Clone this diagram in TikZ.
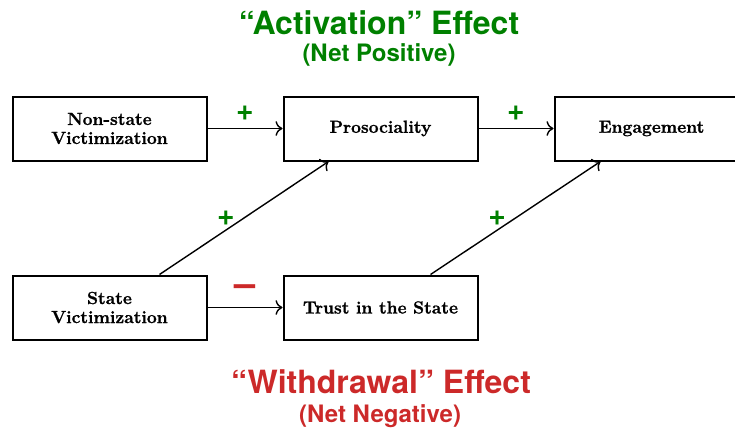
\documentclass[tikz,border=0pt]{standalone}
\usepackage{fontspec}
\newfontfamily\headfont{TeX Gyre Heros}
\newfontfamily\boxfont{Latin Modern Roman}[BoldFeatures={FakeBold=1.2}]
\usepackage{tikz}
\usetikzlibrary{positioning, arrows.meta}

\definecolor{actgreen}{RGB}{0,128,0}
\definecolor{wdred}{RGB}{204,41,41}

\begin{document}
\begin{tikzpicture}[x=1pt, y=-1pt,
                factor/.style={draw=black, line width=2pt, rectangle, minimum width=194pt, minimum height=64pt, align=center, font=\boxfont\fontsize{17.5}{19}\selectfont\bfseries},
                edge/.style={line width=1.4pt, -{To[scale=1.5]}},
                sign/.style={font=\headfont\bfseries\fontsize{30}{30}\selectfont, text=actgreen, inner sep=0pt},
                negsign/.style={font=\headfont\bfseries\fontsize{38}{38}\selectfont, text=wdred, inner sep=0pt},
                headline/.style={font=\headfont\bfseries\fontsize{32}{32}\selectfont, anchor=base},
                subline/.style={font=\headfont\bfseries\fontsize{24}{24}\selectfont, anchor=base}
            ]
            \useasboundingbox (0,0) rectangle (735,428);

            % Knoten
            \node[factor] (NS) at (109.5,128.5) {Non-state\\Victimization};
            \node[factor, right=75pt of NS] (Pro) {Prosociality};
            \node[factor, right=75pt of Pro] (Eng) {Engagement};
            \node[factor, below=113pt of NS] (SV) {State\\Victimization};
            \node[factor, right=75pt of SV] (TS) {Trust in the State};

            % Ueberschriften
            \node[headline, text=actgreen] (ActHead) at (379,35) {“Activation” Effect};
            \node[subline, text=actgreen] (ActSub) at (379,62) {(Net Positive)};
            \node[headline, text=wdred] (WdHead) at (381,393) {“Withdrawal” Effect};
            \node[subline, text=wdred] (WdSub) at (380,422) {(Net Negative)};

            % Kanten zwischen Knoten
            \draw[edge] (NS) -- (Pro) node[midway, sign, yshift=15pt] {+};
            \draw[edge] (Pro) -- (Eng) node[midway, sign, yshift=15pt] {+};
            \draw[edge] (SV) -- (TS) node[midway, negsign, yshift=17pt] {–};
            \draw[edge] ([xshift=50pt]SV.north) -- ([xshift=-52pt]Pro.south) node[pos=0.41, sign, xshift=-3pt, yshift=10pt] {+};
            \draw[edge] ([xshift=50pt]TS.north) -- ([xshift=-51pt]Eng.south) node[pos=0.41, sign, xshift=-3pt, yshift=10pt] {+};

        \end{tikzpicture}
\end{document}
